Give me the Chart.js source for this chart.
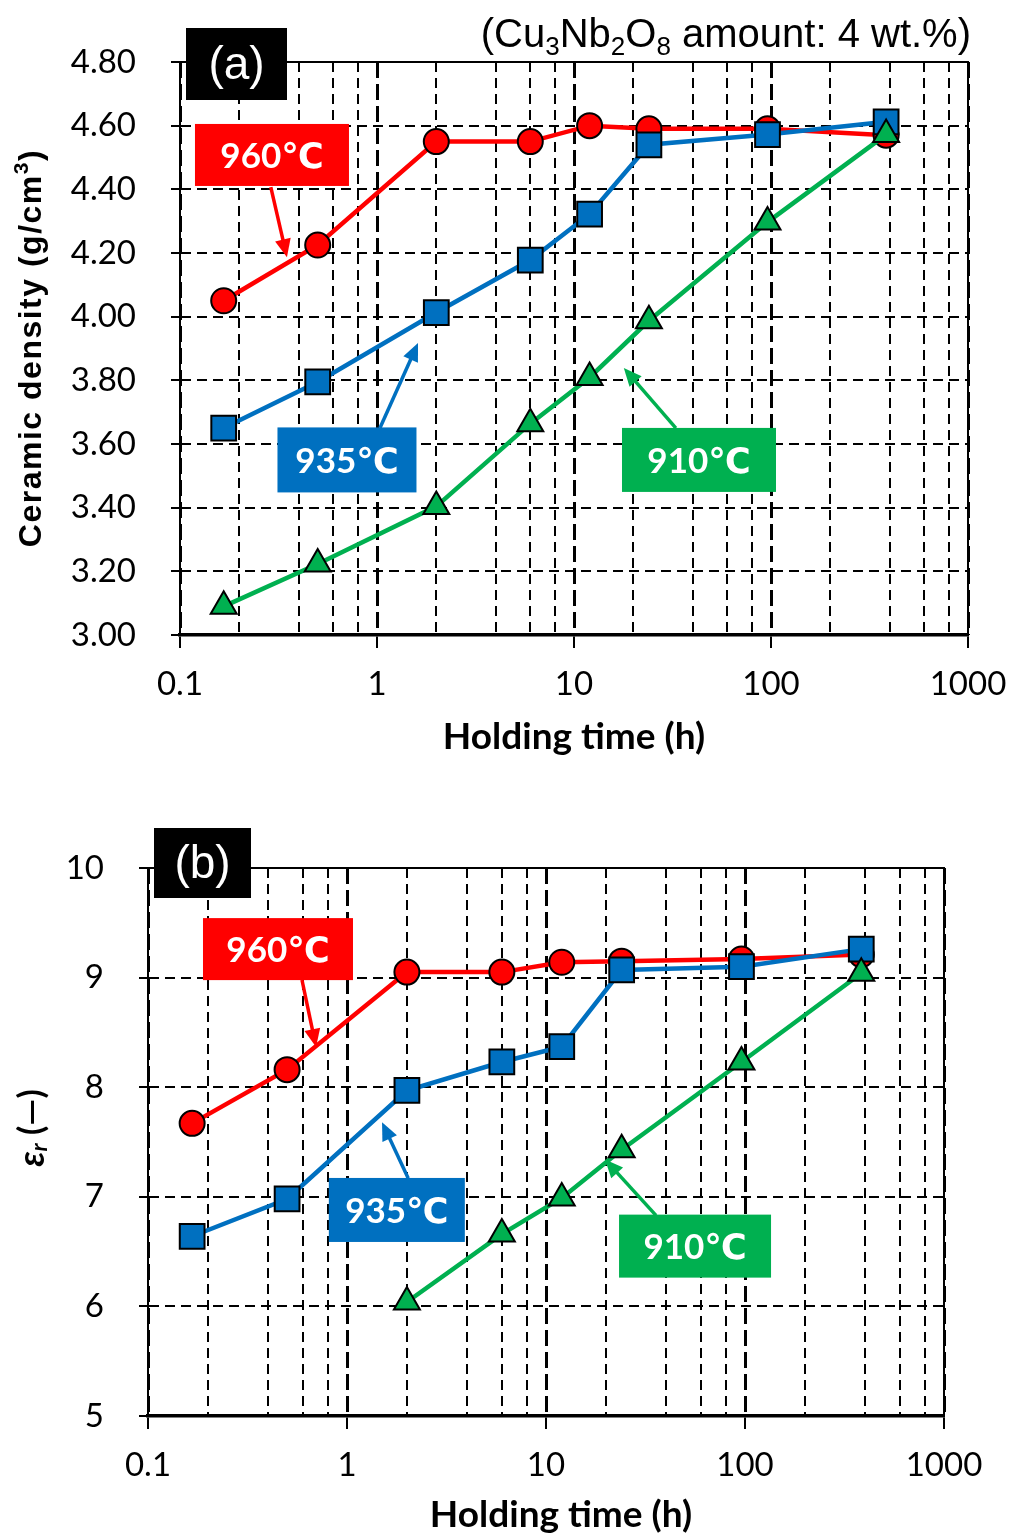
<!DOCTYPE html>
<html>
<head>
<meta charset="utf-8">
<script src="https://cdn.jsdelivr.net/npm/chart.js@4.4.1/dist/chart.umd.min.js"></script>
<style>
  html, body { margin: 0; padding: 0; background: #fff; }
  .panel { position: absolute; left: 0; width: 1025px; }
  #pa { top: 0; height: 770px; }
  #pb { top: 770px; height: 765px; }
</style>
</head>
<body>
<div class="panel" id="pa"><canvas id="chartA" width="1025" height="770"></canvas></div>
<div class="panel" id="pb"><canvas id="chartB" width="1025" height="765"></canvas></div>
<script>
// holding times (h): 10 min, 30 min, 2 h, 6 h, 12 h, 1 d, 4 d, 16 d
const hours = [1 / 6, 0.5, 2, 6, 12, 24, 96, 384];
const epsHours910 = [2, 6, 12, 24, 96, 384];

const density960 = [4.05, 4.225, 4.55, 4.55, 4.60, 4.59, 4.59, 4.57];
const density935 = [3.65, 3.795, 4.013, 4.178, 4.322, 4.54, 4.572, 4.612];
const density910 = [3.09, 3.223, 3.404, 3.664, 3.809, 3.987, 4.297, 4.572];

const eps960 = [7.67, 8.16, 9.05, 9.05, 9.14, 9.15, 9.17, 9.21];
const eps935 = [6.64, 6.98, 7.97, 8.23, 8.37, 9.07, 9.10, 9.26];
const eps910 = [6.04, 6.66, 6.99, 7.43, 8.23, 9.04];

const xGridValues = [0.1, 0.2, 0.4, 0.6, 0.8, 1, 2, 4, 6, 8, 10, 20, 40, 60, 80, 100, 200, 400, 600, 800, 1000];
const xDecades = [0.1, 1, 10, 100, 1000];
const xTickLabels = ["0.1", "1", "10", "100", "1000"];

const densityTicks = [3.0, 3.2, 3.4, 3.6, 3.8, 4.0, 4.2, 4.4, 4.6, 4.8];
const densityTickLabels = ["3.00", "3.20", "3.40", "3.60", "3.80", "4.00", "4.20", "4.40", "4.60", "4.80"];
const epsTicks = [5, 6, 7, 8, 9, 10];
const epsTickLabels = ["5", "6", "7", "8", "9", "10"];

const RED = "#FF0000";
const BLUE = "#0070C0";
const GREEN = "#00B050";
const TICK_FONT = { family: "Lato, 'Open Sans', sans-serif", size: 33 };

const pts = (xs, ys) => xs.map((x, i) => ({ x, y: ys[i] }));

function series(label, data, color, style, radius, order) {
  return {
    label,
    data,
    borderColor: color,
    backgroundColor: color,
    borderWidth: 4.5,
    pointStyle: style,
    pointRadius: radius,
    pointBackgroundColor: color,
    pointBorderColor: "#000",
    pointBorderWidth: 2,
    tension: 0,
    order,
  };
}

function arrow(ctx, x1, y1, x2, y2, color) {
  const a = Math.atan2(y2 - y1, x2 - x1);
  const hl = 18, hw = 8;
  ctx.strokeStyle = color;
  ctx.fillStyle = color;
  ctx.lineWidth = 3.5;
  ctx.beginPath();
  ctx.moveTo(x1, y1);
  ctx.lineTo(x2 - Math.cos(a) * hl * 0.8, y2 - Math.sin(a) * hl * 0.8);
  ctx.stroke();
  ctx.beginPath();
  ctx.moveTo(x2, y2);
  ctx.lineTo(x2 - Math.cos(a) * hl - Math.sin(a) * hw, y2 - Math.sin(a) * hl + Math.cos(a) * hw);
  ctx.lineTo(x2 - Math.cos(a) * hl + Math.sin(a) * hw, y2 - Math.sin(a) * hl - Math.cos(a) * hw);
  ctx.closePath();
  ctx.fill();
}

// draws a run of [text, font, dy] pieces starting at x
function richText(ctx, parts, x, y) {
  let cx = x;
  parts.forEach(([t, font, dy]) => {
    ctx.font = font;
    ctx.fillText(t, cx, y + dy);
    cx += ctx.measureText(t).width;
  });
  return cx - x;
}
function richWidth(ctx, parts) {
  let w = 0;
  parts.forEach(([t, font]) => { ctx.font = font; w += ctx.measureText(t).width; });
  return w;
}

function decoPlugin(cfg) {
  return {
    id: "deco",
    beforeDatasetsDraw(chart) {
      const { ctx, chartArea: a } = chart;
      ctx.save();
      ctx.strokeStyle = "#000";
      ctx.lineWidth = 2;
      ctx.beginPath();
      ctx.moveTo(a.left, a.top);
      ctx.lineTo(a.right, a.top);
      ctx.lineTo(a.right, a.bottom);
      ctx.stroke();
      ctx.restore();
    },
    afterDatasetsDraw(chart) {
      const { ctx, scales: { x, y } } = chart;
      ctx.save();
      cfg.notes.forEach((n) => {
        const bx = x.getPixelForValue(n.box[0]);
        const by = y.getPixelForValue(n.box[1]);
        arrow(ctx, x.getPixelForValue(n.from[0]), y.getPixelForValue(n.from[1]),
          x.getPixelForValue(n.to[0]), y.getPixelForValue(n.to[1]), n.color);
        ctx.fillStyle = n.color;
        ctx.fillRect(bx - n.w / 2, by - n.h / 2, n.w, n.h);
        ctx.fillStyle = "#fff";
        ctx.font = "bold 35px Lato, 'DejaVu Sans', sans-serif";
        ctx.textAlign = "center";
        ctx.textBaseline = "middle";
        ctx.fillText(n.text, bx, by + 2);
      });
      // panel tag
      const t = cfg.tag;
      ctx.fillStyle = "#000";
      ctx.fillRect(t.x, t.y, t.w, t.h);
      ctx.fillStyle = "#fff";
      ctx.font = "46px 'Liberation Sans', Arial, sans-serif";
      ctx.textAlign = "center";
      ctx.textBaseline = "middle";
      ctx.fillText(t.text, t.x + t.w / 2, t.y + t.h / 2 + 2);
      ctx.restore();
    },
    afterDraw(chart) {
      const { ctx, chartArea: a } = chart;
      ctx.save();
      ctx.fillStyle = "#000";
      ctx.textBaseline = "middle";
      // x title
      ctx.font = "bold 37px Lato, sans-serif";
      ctx.textAlign = "center";
      ctx.fillText("Holding time (h)", (a.left + a.right) / 2 + cfg.xTitleDx, cfg.xTitleY);
      // y title (rotated)
      ctx.translate(cfg.yTitleX, cfg.yTitleY);
      ctx.rotate(-Math.PI / 2);
      ctx.textAlign = "left";
      if (cfg.yTitleSpacing) ctx.letterSpacing = cfg.yTitleSpacing;
      const w = richWidth(ctx, cfg.yTitle);
      richText(ctx, cfg.yTitle, -w / 2, 0);
      ctx.restore();
      if (cfg.header) {
        ctx.save();
        ctx.fillStyle = "#000";
        ctx.textBaseline = "alphabetic";
        ctx.textAlign = "left";
        const hw = richWidth(ctx, cfg.header);
        richText(ctx, cfg.header, 971 - hw, 47);
        ctx.restore();
      }
    },
  };
}

function makeChart(id, datasets, yTicks, yLabels, box, deco) {
  const isDecade = (v) => xDecades.includes(v);
  return new Chart(document.getElementById(id), {
    type: "line",
    data: { datasets },
    options: {
      responsive: false,
      animation: false,
      events: [],
      layout: { padding: { top: box.top, right: box.right, left: 0, bottom: 0 } },
      plugins: { legend: { display: false }, tooltip: { enabled: false } },
      scales: {
        x: {
          type: "logarithmic",
          min: 0.1,
          max: 1000,
          afterBuildTicks: (s) => { s.ticks = xGridValues.map((v) => ({ value: v })); },
          afterFit: (s) => { s.height = box.xAxisH; },
          ticks: {
            autoSkip: false,
            maxRotation: 0,
            padding: 17,
            color: "#000",
            font: TICK_FONT,
            callback: (v) => { const i = xDecades.indexOf(v); return i >= 0 ? xTickLabels[i] : ""; },
          },
          grid: {
            color: (c) => (c.tick && isDecade(c.tick.value) ? "rgba(0,0,0,0)" : "#000"),
            lineWidth: 2,
            tickLength: 13,
            tickWidth: 2,
            tickColor: (c) => (c.tick && isDecade(c.tick.value) ? "#000" : "rgba(0,0,0,0)"),
          },
          border: { color: "#000", width: 3.5, dash: [10, 6] },
        },
        xMajor: {
          type: "logarithmic",
          position: "top",
          min: 0.1,
          max: 1000,
          afterBuildTicks: (s) => { s.ticks = xDecades.map((v) => ({ value: v })); },
          afterFit: (s) => { s.height = 0; },
          ticks: { display: false },
          grid: { color: "#000", lineWidth: 3, drawTicks: false },
          border: { display: false, dash: [16, 6] },
        },
        y: {
          min: yTicks[0],
          max: yTicks[yTicks.length - 1],
          afterBuildTicks: (s) => { s.ticks = yTicks.map((v) => ({ value: v })); },
          afterFit: (s) => { s.width = box.yAxisW; },
          ticks: {
            padding: 35,
            color: "#000",
            font: TICK_FONT,
            callback: (v, i) => yLabels[i],
          },
          grid: { color: "#000", lineWidth: 2, tickLength: 9, tickWidth: 2, tickColor: "#000" },
          border: { color: "#000", width: 2, dash: [10, 6] },
        },
      },
    },
    plugins: [decoPlugin(deco)],
  });
}

makeChart(
  "chartA",
  [
    series("960℃", pts(hours, density960), RED, "circle", 12.5, 3),
    series("935℃", pts(hours, density935), BLUE, "rect", 17.5, 2),
    series("910℃", pts(hours, density910), GREEN, "triangle", 15, 1),
  ],
  densityTicks,
  densityTickLabels,
  { top: 62, right: 57, xAxisH: 135, yAxisW: 180 },
  {
    notes: [
      { text: "960℃", color: RED, box: [0.293, 4.508], w: 154, h: 62, from: [0.289, 4.407], to: [0.349, 4.187] },
      { text: "935℃", color: BLUE, box: [0.704, 3.55], w: 139, h: 65, from: [1.035, 3.65], to: [1.615, 3.917] },
      { text: "910℃", color: GREEN, box: [43.1, 3.55], w: 154, h: 64, from: [32.9, 3.65], to: [17.9, 3.839] },
    ],
    tag: { text: "(a)", x: 186, y: 28, w: 101, h: 72 },
    xTitleY: 737,
    xTitleDx: 0,
    yTitleX: 32,
    yTitleY: 348,
    yTitleSpacing: "1.5px",
    yTitle: [
      ["Ceramic density (g/cm", "bold 32px 'Liberation Sans', Arial, sans-serif", 0],
      ["3", "bold 21px 'Liberation Sans', Arial, sans-serif", -10],
      [")", "bold 32px 'Liberation Sans', Arial, sans-serif", 0],
    ],
    header: [
      ["(Cu", "40px 'Liberation Sans', Arial, sans-serif", 0],
      ["3", "26px 'Liberation Sans', Arial, sans-serif", 8],
      ["Nb", "40px 'Liberation Sans', Arial, sans-serif", 0],
      ["2", "26px 'Liberation Sans', Arial, sans-serif", 8],
      ["O", "40px 'Liberation Sans', Arial, sans-serif", 0],
      ["8", "26px 'Liberation Sans', Arial, sans-serif", 8],
      [" amount: 4 wt.%)", "40px 'Liberation Sans', Arial, sans-serif", 0],
    ],
  }
);

makeChart(
  "chartB",
  [
    series("960℃", pts(hours, eps960), RED, "circle", 12.5, 3),
    series("935℃", pts(hours, eps935), BLUE, "rect", 17.5, 2),
    series("910℃", pts(epsHours910, eps910), GREEN, "triangle", 15, 1),
  ],
  epsTicks,
  epsTickLabels,
  { top: 98, right: 81, xAxisH: 119, yAxisW: 148 },
  {
    notes: [
      { text: "960℃", color: RED, box: [0.45, 9.26], w: 150, h: 62, from: [0.594, 8.978], to: [0.699, 8.367] },
      { text: "935℃", color: BLUE, box: [1.78, 6.88], w: 136, h: 64, from: [2.03, 7.17], to: [1.5, 7.68] },
      { text: "910℃", color: GREEN, box: [56.1, 6.55], w: 152, h: 63, from: [35.7, 6.83], to: [19.8, 7.34] },
    ],
    tag: { text: "(b)", x: 154, y: 58, w: 97, h: 70 },
    xTitleY: 745,
    xTitleDx: 15,
    yTitleX: 32,
    yTitleY: 358,
    yTitle: [
      ["ε", "bold italic 36px Lato, 'DejaVu Sans', sans-serif", 0],
      ["r", "bold italic 23px Lato, 'DejaVu Sans', sans-serif", 8],
      [" (—)", "bold 34px Lato, 'DejaVu Sans', sans-serif", 0],
    ],
  }
);
</script>
</body>
</html>
